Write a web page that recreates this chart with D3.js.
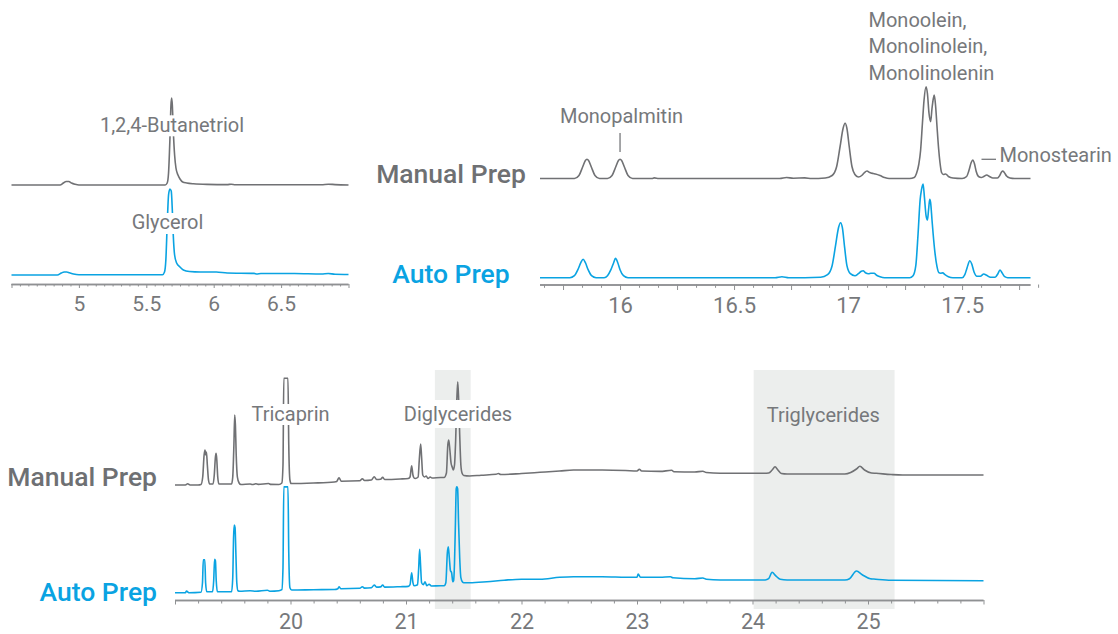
<!DOCTYPE html>
<html><head><meta charset="utf-8">
<script src="https://cdn.jsdelivr.net/npm/d3@7"></script>
<style>
html,body{margin:0;padding:0;background:#fff;}
svg{display:block;font-family:Roboto,"Noto Sans",sans-serif;}
</style></head><body>
<svg id="c" width="1118" height="634"></svg>
<script>
// ---------- DATA (retention time in min, detector signal in arbitrary units) ----------
const seriesNames = ["Manual Prep", "Auto Prep"];

// top-left window: glycerol / internal standard
const tlManual = [[4.50,0],[4.86,0],[4.885,2],[4.905,3.5],[4.925,3.5],[4.945,2],[4.97,0.8],[5.00,0],[5.64,0],[5.655,2],[5.665,12],[5.675,45],[5.683,80],[5.688,87],[5.693,80],[5.70,55],[5.71,30],[5.72,17],[5.735,10],[5.75,6],[5.77,3],[5.80,2],[5.85,1.2],[5.95,0.6],[6.10,0.4],[6.13,0.8],[6.16,0.3],[6.40,0.2],[6.80,0.3],[6.85,0.8],[6.90,0.4],[7.00,0]];
const tlAuto = [[4.50,0],[4.84,0],[4.87,2],[4.89,3],[4.91,3],[4.93,2.2],[4.96,1],[5.00,0.3],[5.62,0.3],[5.635,3],[5.645,15],[5.655,50],[5.665,80],[5.675,86],[5.685,84],[5.693,65],[5.70,40],[5.71,20],[5.725,12],[5.75,8],[5.775,5],[5.82,3.5],[5.90,3],[6.02,3],[6.10,2],[6.30,1.6],[6.32,1],[6.35,1.5],[6.60,1.5],[6.80,1],[6.85,1.5],[6.90,0.7],[7.00,0.5]];

// top-right window: monoglycerides
const trManual = [[15.649,0],[15.80,0],[15.82,3],[15.835,11],[15.848,18],[15.855,19.2],[15.862,18],[15.875,11],[15.89,3],[15.91,0],[15.945,0],[15.965,3],[15.98,11],[15.993,18],[16.0,19.2],[16.007,18],[16.02,11],[16.035,3],[16.055,0],[16.14,0],[16.15,0.6],[16.17,0],[16.70,0],[16.73,1],[16.76,0.3],[16.81,0.6],[16.84,0],[16.90,0.5],[16.93,3],[16.95,12],[16.965,32],[16.978,50],[16.987,55.2],[16.995,50],[17.005,32],[17.017,12],[17.03,4],[17.045,1.5],[17.06,3],[17.07,5.5],[17.083,7.5],[17.095,6],[17.11,5],[17.12,4.5],[17.14,3],[17.16,1],[17.18,0],[17.27,0],[17.29,1],[17.30,5],[17.31,14],[17.318,28],[17.326,55],[17.333,78],[17.342,91.8],[17.348,85],[17.355,65],[17.362,56.8],[17.368,70],[17.374,80],[17.378,83.5],[17.384,72],[17.39,52],[17.397,30],[17.403,16],[17.41,6],[17.418,4],[17.428,4.5],[17.44,2],[17.46,0.5],[17.50,0],[17.52,2],[17.53,8],[17.54,16],[17.547,18.5],[17.554,15],[17.562,7],[17.572,2],[17.585,1],[17.595,2],[17.608,3.5],[17.62,2],[17.635,0.5],[17.655,0.5],[17.665,3],[17.673,6.5],[17.678,7.5],[17.685,6],[17.695,2.5],[17.71,0.5],[17.73,0],[17.80,0]];
const trAuto = [[15.649,0],[15.78,0],[15.80,2],[15.815,8],[15.828,15],[15.838,18.4],[15.848,15],[15.86,8],[15.875,2],[15.895,0],[15.93,0],[15.945,2],[15.96,8],[15.972,15],[15.98,19.4],[15.99,15],[16.0,8],[16.015,2],[16.035,0],[16.20,0],[16.21,-0.8],[16.60,-0.5],[16.68,0],[16.71,1],[16.74,0],[16.88,0.5],[16.91,3],[16.93,12],[16.945,32],[16.958,50],[16.967,55],[16.975,50],[16.985,30],[16.995,12],[17.01,4],[17.03,2],[17.045,4],[17.058,6.5],[17.066,7],[17.076,5],[17.09,4],[17.10,4.4],[17.114,4.4],[17.125,2.5],[17.14,1],[17.16,0],[17.27,0],[17.285,2],[17.297,12],[17.307,44],[17.316,78],[17.322,88],[17.329,93.7],[17.335,80],[17.342,62],[17.348,57.7],[17.353,68],[17.358,78.4],[17.362,75],[17.368,58],[17.373,44],[17.381,25],[17.39,11],[17.398,5],[17.406,4.4],[17.415,4.8],[17.425,3],[17.44,1],[17.46,0],[17.50,0],[17.512,3],[17.522,10],[17.534,17],[17.542,14],[17.552,6],[17.565,1.5],[17.58,1.5],[17.595,3.7],[17.607,2.5],[17.625,0.5],[17.645,0.5],[17.657,4],[17.666,7.7],[17.675,5],[17.687,1],[17.70,0],[17.80,0]];

// bottom window: tricaprin, diglycerides, triglycerides
const btManual = [[19.00,0],[19.09,0],[19.11,1.2],[19.13,0],[19.20,0],[19.225,0.5],[19.24,8],[19.252,30],[19.26,35],[19.266,30],[19.272,33],[19.28,20],[19.29,5],[19.30,1],[19.33,1],[19.34,10],[19.35,28],[19.356,31.7],[19.362,25],[19.37,8],[19.38,1],[19.49,1],[19.50,8],[19.51,40],[19.517,70],[19.523,60],[19.53,30],[19.54,8],[19.555,2],[19.57,0.5],[19.65,1],[19.67,0.5],[19.70,1.2],[19.72,0.6],[19.81,1.5],[19.83,0.6],[19.90,0.5],[19.925,2],[19.935,20],[19.942,110],[19.95,160],[19.96,170],[19.97,150],[19.978,110],[19.985,40],[19.995,5],[20.005,1.5],[20.20,2],[20.38,3],[20.40,3.5],[20.42,7.3],[20.44,3.8],[20.60,4.2],[20.622,6.3],[20.64,4.5],[20.70,5],[20.725,8.3],[20.745,5.5],[20.78,5.8],[20.798,7.7],[20.815,5.5],[20.95,6],[21.02,6.5],[21.035,8],[21.049,19.3],[21.06,10],[21.07,7],[21.08,6.5],[21.105,8],[21.115,25],[21.127,41],[21.135,28],[21.145,10],[21.16,8],[21.175,9],[21.19,6.5],[21.21,8],[21.225,7],[21.30,7.5],[21.33,7.5],[21.35,12],[21.362,40],[21.37,45],[21.38,35],[21.39,22],[21.40,18],[21.41,15],[21.42,20],[21.43,45],[21.44,85],[21.448,103.3],[21.456,85],[21.465,50],[21.475,20],[21.485,12],[21.50,9.5],[21.55,9],[21.65,9.8],[21.78,10.7],[21.80,11.5],[21.82,10.5],[22.00,11.5],[22.16,12.7],[22.33,14],[22.45,15],[22.70,15],[22.90,14.5],[23.00,14],[23.02,15.7],[23.04,14],[23.20,13.6],[23.30,14.7],[23.32,13.3],[23.50,13],[23.57,13.8],[23.60,12.5],[23.72,11.7],[24.10,11.7],[24.14,12],[24.17,15],[24.195,18.3],[24.22,15],[24.25,11.5],[24.30,11],[24.80,11],[24.85,12.5],[24.90,16],[24.93,18.7],[24.97,15],[25.03,12],[25.07,11.7],[25.20,10.5],[25.30,10],[26.00,10]];
const btAuto = [[19.00,0],[19.09,0],[19.10,1.7],[19.12,0],[19.225,0.5],[19.238,10],[19.245,33],[19.258,33],[19.265,10],[19.275,1],[19.325,1],[19.335,12],[19.343,33.4],[19.35,32],[19.357,12],[19.367,1],[19.49,1],[19.50,15],[19.507,55],[19.513,67.7],[19.52,65],[19.527,40],[19.535,10],[19.545,2],[19.56,1.5],[19.65,2],[19.70,1.5],[19.80,2.5],[19.82,1.5],[19.90,2],[19.925,3],[19.935,25],[19.942,110],[19.96,170],[19.978,110],[19.985,40],[19.995,5],[20.01,2.7],[20.20,3],[20.38,3.2],[20.41,4],[20.42,6],[20.435,4],[20.60,4.4],[20.622,6],[20.64,4.6],[20.70,5],[20.725,7.7],[20.745,5.6],[20.78,5.8],[20.798,7.7],[20.815,5.6],[20.95,6],[21.02,6.3],[21.035,8],[21.049,20],[21.06,10],[21.07,7],[21.10,8],[21.11,25],[21.118,43.4],[21.125,30],[21.135,10],[21.15,8],[21.165,11],[21.18,7],[21.20,8.4],[21.22,6.7],[21.30,7],[21.33,7],[21.345,10],[21.358,40],[21.366,46],[21.375,35],[21.385,22],[21.395,20],[21.405,11],[21.412,12],[21.42,30],[21.428,70],[21.435,104],[21.44,108],[21.447,104],[21.455,70],[21.465,35],[21.475,15],[21.49,10.5],[21.50,10],[21.55,10],[21.70,11],[21.85,12.5],[22.00,13.5],[22.16,13.4],[22.33,15.4],[22.45,16],[22.70,16],[22.90,15.5],[23.00,15.4],[23.01,18.7],[23.03,15.4],[23.20,15.4],[23.29,16],[23.31,15],[23.50,14],[23.57,14.7],[23.60,13.5],[23.72,12.7],[24.11,12.7],[24.14,14],[24.17,20.4],[24.20,17],[24.24,13.4],[24.30,12.7],[24.80,12.7],[24.84,14],[24.90,21.7],[24.95,18],[25.02,14],[25.05,13.7],[25.20,12.4],[26.00,12]];

// tick labels
const tlTickLabels = [5, 5.5, 6, 6.5];
const trTickLabels = [16, 16.5, 17, 17.5];
const btTickLabels = [20, 21, 22, 23, 24, 25];

// highlighted retention-time windows (min)
const bandNames = ["Diglycerides", "Triglycerides"];
const bandRanges = [[21.25, 21.56], [24.01, 25.23]];

// ---------- STYLE ----------
const GREY = "#707174", BLUE = "#0aa3e2", TXT = "#76787b", AX = "#8f9193", BAND = "#eceeed";
const svg = d3.select("#c");

function panel(cfg) {
  const x = d3.scaleLinear().domain(cfg.domain).range(cfg.range);
  const g = svg.append("g");
  const layers = {bg: g.append("g"), lines: g.append("g"), labels: g.append("g"), axis: g.append("g")};
  cfg.traces.forEach(tr => {
    const y = d3.scaleLinear().domain([0, tr.max]).range([tr.base, tr.base - tr.max]).clamp(true);
    const line = d3.line().x(d => x(d[0])).y(d => y(d[1])).curve(d3.curveMonotoneX);
    layers.lines.append("path").datum(tr.data)
      .attr("d", line).attr("fill", "none").attr("stroke", tr.color)
      .attr("stroke-width", 1.6).attr("stroke-linejoin", "round");
  });
  // axis
  const n = Math.round((cfg.domain[1] - cfg.tickStart) / cfg.tickStep);
  const minor = d3.range(0, n + 1).map(i => cfg.tickStart + i * cfg.tickStep);
  const isMajor = v => Math.abs(v / cfg.majorStep - Math.round(v / cfg.majorStep)) < 1e-6;
  const ag = layers.axis.append("g").attr("transform", `translate(0,${cfg.axisY})`);
  ag.call(d3.axisBottom(x).tickValues(minor.filter(v => !isMajor(v))).tickSize(cfg.minorLen).tickFormat(""));
  const ag2 = layers.axis.append("g").attr("transform", `translate(0,${cfg.axisY})`);
  ag2.call(d3.axisBottom(x).tickValues(minor.filter(isMajor)).tickSize(cfg.majorLen).tickFormat(""));
  [ag, ag2].forEach(a => {
    a.select(".domain").attr("stroke", AX).attr("stroke-width", 1.6)
      .attr("d", `M${cfg.range[0]},0.5H${cfg.range[1]}`);
    a.selectAll(".tick line").attr("stroke", AX).attr("stroke-width", 1);
  });
  const lg = layers.axis.append("g").attr("transform", `translate(0,${cfg.axisY})`);
  lg.call(d3.axisBottom(x).tickValues(cfg.labels).tickSize(0).tickFormat(d => String(d)));
  lg.select(".domain").remove();
  lg.selectAll(".tick text").attr("y", cfg.labelBase - cfg.axisY).attr("dy", 0)
    .attr("fill", TXT).attr("font-size", cfg.labelSize).attr("font-family", "Roboto");
  return {x, layers};
}

function label(layer, text, x, y, anchor, opts = {}) {
  const t = layer.append("text").attr("x", x).attr("y", y).attr("text-anchor", anchor)
    .attr("fill", opts.color || TXT).attr("font-size", opts.size || 20)
    .attr("font-weight", opts.weight || 400).text(text);
  if (opts.box) {
    const bb = t.node().getBBox();
    layer.insert("rect", () => t.node())
      .attr("x", bb.x - 1).attr("width", bb.width + 2)
      .attr("y", y - opts.box[0]).attr("height", opts.box[0] + opts.box[1]).attr("fill", "#fff");
  }
  return t;
}

// ---------- TOP LEFT ----------
const tl = panel({
  domain: [4.5, 7.0], range: [11.5, 348.5], axisY: 284, tickStart: 4.5, tickStep: 1 / 16, majorStep: 0.5,
  minorLen: 2.5, majorLen: 4, labels: tlTickLabels, labelBase: 310.7, labelSize: 21,
  traces: [{data: tlManual, base: 185, max: 200, color: GREY}, {data: tlAuto, base: 275, max: 200, color: BLUE}]
});
label(tl.layers.labels, "1,2,4-Butanetriol", 172, 132.3, "middle", {box: [17, 4]});
label(tl.layers.labels, "Glycerol", 167.5, 229, "middle", {box: [16, 5]});

// ---------- TOP RIGHT ----------
const tr = panel({
  domain: [15.649, 17.80], range: [540, 1030.5], axisY: 284.5, tickStart: 15.75 - 1 / 12, tickStep: 1 / 12, majorStep: 0.25,
  minorLen: 3.3, majorLen: 5.5, labels: trTickLabels, labelBase: 313.3, labelSize: 22,
  traces: [{data: trManual, base: 178.5, max: 200, color: GREY}, {data: trAuto, base: 277.7, max: 200, color: BLUE}]
});
label(tr.layers.labels, seriesNames[0], 451, 182.5, "middle", {size: 26.5, weight: 500, color: "#6e7073"});
label(tr.layers.labels, seriesNames[1], 451, 283, "middle", {size: 26.5, weight: 500, color: BLUE});
label(tr.layers.labels, "Monopalmitin", 621.5, 122.5, "middle");
tr.layers.labels.append("line").attr("x1", tr.x(16.0)).attr("x2", tr.x(16.0)).attr("y1", 133).attr("y2", 152)
  .attr("stroke", TXT).attr("stroke-width", 1.3);
["Monoolein,", "Monolinolein,", "Monolinolenin"].forEach((s, i) => label(tr.layers.labels, s, 868.5, 26.7 + i * 26.65, "start"));
tr.layers.labels.append("line").attr("x1", 981.5).attr("x2", 996).attr("y1", 159.3).attr("y2", 159.3)
  .attr("stroke", TXT).attr("stroke-width", 1.3);
label(tr.layers.labels, "Monostearin", 999.5, 162.3, "start");

// ---------- BOTTOM ----------
const bt = panel({
  domain: [19, 26], range: [175, 983.5], axisY: 600, tickStart: 19, tickStep: 0.2, majorStep: 1,
  minorLen: 3.5, majorLen: 4.5, labels: btTickLabels, labelBase: 629, labelSize: 21.5,
  traces: [{data: btManual, base: 485, max: 106.7, color: GREY}, {data: btAuto, base: 592.7, max: 105.8, color: BLUE}]
});
bt.layers.bg.selectAll("rect").data(bandRanges).join("rect")
  .attr("x", d => bt.x(d[0])).attr("width", d => bt.x(d[1]) - bt.x(d[0]))
  .attr("y", 370).attr("height", 239).attr("fill", BAND);
label(bt.layers.labels, seriesNames[0], 157, 486, "end", {size: 26.5, weight: 500, color: "#6e7073"});
label(bt.layers.labels, seriesNames[1], 157, 601, "end", {size: 26.5, weight: 500, color: BLUE});
label(bt.layers.labels, "Tricaprin", 290.5, 421, "middle", {box: [17, 4]});
label(bt.layers.labels, bandNames[0], 458, 421, "middle", {box: [21, 7]});
label(bt.layers.labels, bandNames[1], 823.3, 421.5, "middle");
</script></body></html>
